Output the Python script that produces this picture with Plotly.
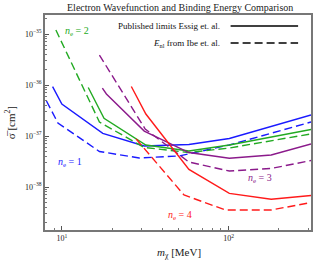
import plotly.graph_objects as go

# ---- data ----
mass_ne1_pub = [8.8, 10.0, 17.6, 31.2, 57.8, 101.0, 312.0]
sigma_ne1_pub = [9.27e-37, 4.24e-37, 1.13e-37, 6.37e-38, 6.81e-38, 8.93e-38, 2.58e-37]
mass_ne1_ibe = [8.09, 9.47, 16.8, 29.1, 50.4, 101.0, 312.0]
sigma_ne1_ibe = [4.85e-37, 1.80e-37, 4.97e-38, 3.71e-38, 4.06e-38, 6.67e-38, 1.88e-37]

mass_ne2_pub = [14.4, 17.9, 31.9, 57.8, 101.0, 312.0]
sigma_ne2_pub = [8.93e-37, 2.22e-37, 6.67e-38, 5.08e-38, 6.67e-38, 1.34e-37]
mass_ne2_ibe = [9.21, 16.8, 31.2, 57.8, 101.0, 312.0]
sigma_ne2_ibe = [1.20e-35, 1.88e-37, 5.96e-38, 4.74e-38, 5.82e-38, 1.10e-37]

mass_ne3_pub = [17.5, 18.5, 31.2, 57.8, 101.0, 180.0, 312.0]
sigma_ne3_pub = [8.73e-37, 6.67e-37, 1.25e-37, 4.74e-38, 3.66e-38, 4.24e-38, 6.97e-38]
mass_ne3_ibe = [16.8, 31.6, 57.8, 101.0, 180.0, 312.0]
sigma_ne3_ibe = [3.87e-36, 1.37e-37, 3.09e-38, 2.06e-38, 2.31e-38, 3.31e-38]

mass_ne4_pub = [26.1, 31.9, 57.8, 101.0, 180.0, 312.0]
sigma_ne4_pub = [9.35e-37, 2.70e-37, 2.22e-38, 7.52e-39, 5.77e-39, 6.81e-39]
mass_ne4_ibe = [27.9, 54.0, 96.0, 180.0, 312.0]
sigma_ne4_ibe = [8.73e-38, 6.97e-39, 3.54e-39, 3.54e-39, 4.97e-39]

series_labels = ["<i>n</i><sub>e</sub> = 1", "<i>n</i><sub>e</sub> = 2",
                 "<i>n</i><sub>e</sub> = 3", "<i>n</i><sub>e</sub> = 4"]
legend_labels = ["Published limits Essig et. al.", "<i>E</i><sub>nl</sub> from Ibe et. al."]
title_text = "Electron Wavefunction and Binding Energy Comparison"

x_tick_vals = [10, 100]
x_tick_text = ["10<sup>1</sup>", "10<sup>2</sup>"]
y_tick_vals = [1e-38, 1e-37, 1e-36, 1e-35]
y_tick_text = ["10<sup>−38</sup>", "10<sup>−37</sup>", "10<sup>−36</sup>", "10<sup>−35</sup>"]

# ---- styling ----
colors = ["#1a1aff", "#22aa22", "#8b1a8b", "#ff1a1a"]
FONT = "Liberation Serif, DejaVu Serif, serif"
LW = 1.4
DASH = "8px,4px"

fig = go.Figure()
pairs = [
    (mass_ne1_pub, sigma_ne1_pub, mass_ne1_ibe, sigma_ne1_ibe),
    (mass_ne2_pub, sigma_ne2_pub, mass_ne2_ibe, sigma_ne2_ibe),
    (mass_ne3_pub, sigma_ne3_pub, mass_ne3_ibe, sigma_ne3_ibe),
    (mass_ne4_pub, sigma_ne4_pub, mass_ne4_ibe, sigma_ne4_ibe),
]
for i, (mp, sp, mi, si) in enumerate(pairs):
    fig.add_trace(go.Scatter(x=mp, y=sp, mode="lines", showlegend=False,
                             line=dict(color=colors[i], width=LW)))
    fig.add_trace(go.Scatter(x=mi, y=si, mode="lines", showlegend=False,
                             line=dict(color=colors[i], width=LW, dash=DASH)))

W, H = 316, 267
ML, MR, MT, MB = 45, 3, 15, 37
pw, ph = W - ML - MR, H - MT - MB

def px(x):
    return (x - ML) / pw

def py(y):
    return 1 - (y - MT) / ph

def note(text, x, y, size, color, xanchor="center", angle=0):
    return dict(text=text, x=px(x), y=py(y), xref="paper", yref="paper",
                xanchor=xanchor, yanchor="middle", showarrow=False, textangle=angle,
                font=dict(family=FONT, size=size, color=color))

annotations = [
    note(title_text, 181, 7, 10, "#222"),
    note("<i>m</i><sub>χ</sub> [MeV]", 180, 253, 11, "#222"),
    note("σ̅ [cm<sup>2</sup>]", 10, 123, 11, "#222", angle=-90),
]
label_pos = [(70, 162), (77, 31), (262, 178), (181, 215)]
for lab, (lx, ly), c in zip(series_labels, label_pos, colors):
    annotations.append(note(lab, lx, ly, 10, c))
shapes = []
for j, (lab, ly) in enumerate(zip(legend_labels, [26, 43])):
    annotations.append(note(lab, 223, ly, 9, "#111", xanchor="right"))
    shapes.append(dict(type="line", xref="paper", yref="paper",
                       x0=px(232), x1=px(300), y0=py(ly), y1=py(ly),
                       line=dict(color="black", width=LW, dash=None if j == 0 else DASH)))

minor_x = [m * 10 ** k for k in (0, 1, 2) for m in range(2, 10)]
minor_y = [m * 10.0 ** k for k in (-39, -38, -37, -36, -35) for m in range(2, 10)]

axis_common = dict(type="log", showgrid=False, zeroline=False, showline=True,
                   linecolor="#777", linewidth=1.5, mirror=True,
                   ticks="inside", ticklen=4, tickcolor="#555",
                   tickfont=dict(family=FONT, size=8, color="#222"))

fig.update_layout(
    width=W, height=H,
    margin=dict(l=ML, r=MR, t=MT, b=MB),
    paper_bgcolor="white", plot_bgcolor="white",
    xaxis=dict(range=[0.899, 2.494], tickmode="array", tickvals=x_tick_vals,
               ticktext=x_tick_text,
               minor=dict(tickmode="array", tickvals=minor_x, ticks="inside",
                          ticklen=2, tickcolor="#777", showgrid=False),
               **axis_common),
    yaxis=dict(range=[-38.843, -34.627], tickmode="array", tickvals=y_tick_vals,
               ticktext=y_tick_text,
               minor=dict(tickmode="array", tickvals=minor_y, ticks="inside",
                          ticklen=2, tickcolor="#777", showgrid=False),
               **axis_common),
    annotations=annotations, shapes=shapes,
    showlegend=False,
)
fig.write_html("out.html", config={"displayModeBar": False},
               post_script="document.body.style.margin='0';")
